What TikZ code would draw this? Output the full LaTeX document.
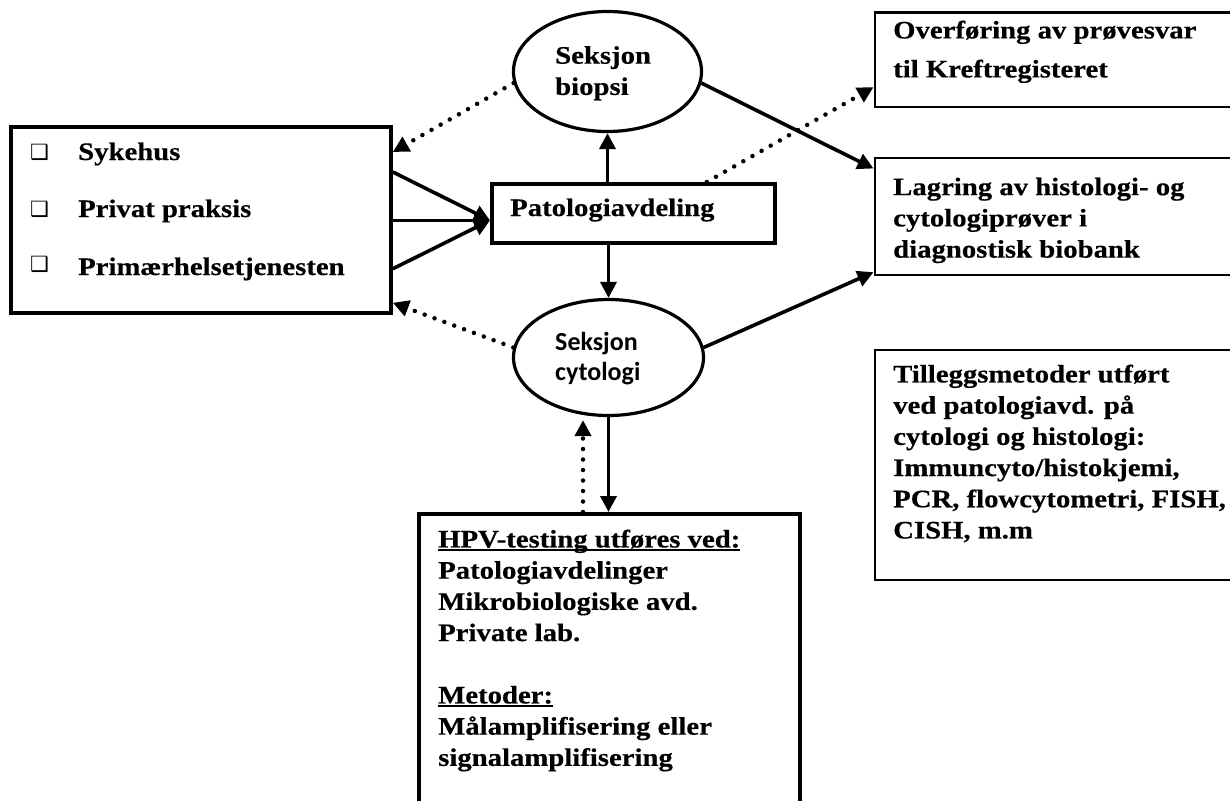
\documentclass[tikz,border=0pt]{standalone}
\usepackage{fontspec}
\setmainfont{Liberation Serif}[FakeStretch=1.14,BoldFeatures={FakeBold=0.4}]
\newfontfamily\calib{Carlito}
\newfontfamily\dejavu{DejaVu Sans}
\usetikzlibrary{arrows.meta,shapes.geometric,calc}
\newsavebox\ulbox
\newcommand{\myul}[1]{\sbox\ulbox{#1}\rlap{\rule[-3.5pt]{\wd\ulbox}{1.8pt}}\usebox\ulbox}
\begin{document}
\begin{tikzpicture}[x=1pt,y=-1pt,
  box/.style={draw, line width=3.8pt, rectangle, inner sep=0pt, anchor=north west},
  thinbox/.style={box, line width=2.7pt},
  oval/.style={draw, line width=3.2pt, ellipse, inner sep=0pt},
  txt/.style={inner sep=0pt, anchor=north west, align=left, font=\bfseries\fontsize{25.2}{31.2}\selectfont},
  ltxt/.style={inner sep=0pt, anchor=base west, font=\bfseries\fontsize{25.2}{31.2}\selectfont},
  bul/.style={inner sep=0pt, anchor=base west, font=\dejavu\fontsize{21}{21}\selectfont},
  arr/.style={line width=3.6pt, -{Triangle[length=16pt,width=16pt]}},
  dotarr/.style={line width=4.5pt, line cap=round, dash pattern=on 0pt off 10.5pt, -{Triangle[length=16pt,width=16pt]}}
]
\useasboundingbox (0,0) rectangle (1230,800);
\clip (0,0) rectangle (1230,800);
\fill[white] (0,0) rectangle (1230,800);

% boxes
\node[box, minimum width=380, minimum height=186] (lb) at (9,125) {};
\node[box, minimum width=283, minimum height=59] (pat) at (490,182) {};
\node[oval, minimum width=188, minimum height=120] (bio) at (607.5,71.5) {};
\node[oval, minimum width=190, minimum height=116] (cyt) at (608.5,357.5) {};
\node[thinbox, minimum width=400, minimum height=94] (ov) at (873.5,11.5) {};
\node[thinbox, minimum width=400, minimum height=117] (lag) at (873.5,156.5) {};
\node[thinbox, minimum width=400, minimum height=230] (til) at (873.5,348.5) {};
\node[box, line width=4pt, minimum width=381, minimum height=400] (hpv) at (417,512) {};

% texts
\node[bul] (b1) at (30,159) {❑};
\node[bul] (b2) at (30,216) {❑};
\node[bul] (b3) at (30,271) {❑};
\node[ltxt] (t1) at (78,160) {Sykehus};
\node[ltxt] (t2) at (78,217) {Privat praksis};
\node[ltxt] (t3) at (78,275) {Primærhelsetjenesten};
\node[ltxt] (tpat) at (510,216) {Patologiavdeling};
\node[txt] (tbio) at (555,46) {Seksjon\\biopsi};
\node[inner sep=0pt, anchor=north west, align=left, font=\calib\bfseries\fontsize{26}{30}\selectfont] (tcyt) at (555,332) {Seksjon\\cytologi};
\node[txt] (tov) at (893,20.5) {Overføring av prøvesvar\\[7.8pt]til Kreftregisteret};
\node[txt] (tlag) at (893,177.5) {Lagring av histologi- og\\cytologiprøver i\\diagnostisk biobank};
\node[txt] (ttil) at (893,364.5) {Tilleggsmetoder utført\\ved patologiavd. på\\cytologi og histologi:\\Immuncyto/histokjemi,\\PCR, flowcytometri, FISH,\\CISH, m.m};
\node[txt] (thpv) at (438,529.5) {\myul{HPV-testing utføres ved:}\\Patologiavdelinger\\Mikrobiologiske avd.\\Private lab.\\[31.2pt]\myul{Metoder:}\\Målamplifisering eller\\signalamplifisering};

% solid connectors
\coordinate (conv) at ($(pat.west)+(0,7)$);
\draw[arr] ($(lb.north east)+(0,47)$) -- (conv);
\draw[arr] (lb.east |- conv) -- (conv);
\draw[arr] ($(lb.south east)+(0,-46)$) -- (conv);
\draw[arr] (pat.north -| bio.south) -- (bio.south);
\draw[arr] (pat.south -| cyt.north) -- (cyt.north);
\draw[arr] (bio.-7) -- ($(lag.north west)+(0,12)$);
\draw[arr] (cyt.6) -- ($(lag.south west)+(0,-4)$);
\draw[arr] (cyt.south) -- (cyt.south |- hpv.north);

% dotted connectors
\draw[dotarr] (bio.187) -- ($(lb.north east)+(0,27)$);
\draw[dotarr] (cyt.174) -- ($(lb.south east)+(0,-12)$);
\draw[dotarr] ($(pat.north east)+(-70,0)$) -- ($(ov.south west)+(0,-21)$);
\coordinate (hd) at ($(hpv.north west)+(166,0)$);
\draw[dotarr, shorten >=3pt] (hd) -- (hd |- cyt.south);
\end{tikzpicture}
\end{document}
